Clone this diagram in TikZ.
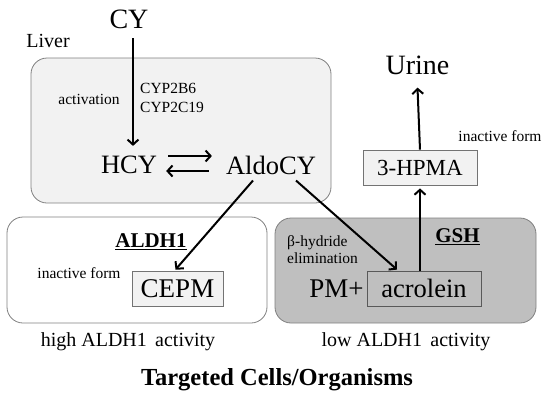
\documentclass[tikz,border=0pt]{standalone}
\usepackage{fontspec}
\setmainfont{Liberation Serif}
\usetikzlibrary{arrows.meta}
\begin{document}
\begin{tikzpicture}
[x=1pt,y=-1pt,
 arr/.style={line width=2pt,-{Straight Barb[length=5pt,width=11pt,line width=2pt]}},
 region/.style={draw=black!50,line width=0.8pt,rounded corners=16pt},
 chem/.style={draw=black!55,line width=0.8pt,inner sep=0pt},
 huge/.style={inner sep=0pt,font=\fontsize{28}{30}\selectfont},
 big/.style={inner sep=0pt,font=\fontsize{26.5}{30}\selectfont},
 mid/.style={inner sep=0pt,font=\fontsize{20}{24}\selectfont},
 small/.style={inner sep=0pt,font=\fontsize{15.5}{19}\selectfont}]
\useasboundingbox (0,0) rectangle (550,400);
%% the three regions
\node[region,fill=black!5,minimum width=300,minimum height=145] (liverbox) at (181,130.5) {};
\node[region,fill=white,minimum width=260,minimum height=106] (highbox) at (137,270) {};
\node[region,fill=black!25,minimum width=261,minimum height=105] (lowbox) at (405.5,270.5) {};
%% liver
\node[huge] (CY) at (129,19.5) {CY};
\node[mid] (liver) at (48,40.5) {Liver};
\node[small] (act) at (89,99) {activation};
\node[small,anchor=west,align=left] (cyp) at (140,97.5) {CYP2B6\\CYP2C19};
\node[big] (HCY) at (129,165) {HCY};
\node[big] (AldoCY) at (271,165) {AldoCY};
\draw[arr] ([xshift=4pt,yshift=-9pt]CY.south) -- ([xshift=4pt,yshift=10pt]HCY.north);
\draw[arr] ([xshift=11pt,yshift=9pt]HCY.east) -- ([xshift=-14pt,yshift=9pt]AldoCY.west);
\draw[arr] ([xshift=-17pt,yshift=-6pt]AldoCY.west) -- ([xshift=9pt,yshift=-6pt]HCY.east);
%% high ALDH1 activity
\node[mid,font=\fontsize{21}{24}\selectfont\bfseries] (aldh) at (151,242) {\underline{ALDH1}};
\node[small] (inactL) at (79,273) {inactive form};
\node[chem,fill=black!5,minimum width=91,minimum height=35,font=\fontsize{27}{30}\selectfont] (CEPM) at (177.5,288.5) {CEPM};
\node[mid] (high) at (128,342) {high ALDH1\, activity};
%% low ALDH1 activity
\node[mid,font=\fontsize{21}{24}\selectfont\bfseries] (gsh) at (457.5,237) {\underline{GSH}};
\node[small,anchor=west,align=left,font=\fontsize{15.5}{17.5}\selectfont] (beta) at (287,249.5) {β-hydride\\elimination};
\node[big,font=\fontsize{27}{30}\selectfont] (pm) at (336.5,288.5) {PM+};
\node[chem,fill=black!25,draw=black!65,minimum width=114,minimum height=35,font=\fontsize{26.5}{30}\selectfont] (acrolein) at (424,288.5) {acrolein};
\node[mid] (low) at (406,342) {low ALDH1\, activity};
%% excretion
\node[chem,fill=black!5,minimum width=114,minimum height=35,font=\fontsize{23}{26}\selectfont] (HPMA) at (420,167.5) {3-HPMA};
\node[small] (inactR) at (500,136) {inactive form};
\node[huge] (urine) at (417.5,65) {Urine};
\coordinate (tipR) at ([xshift=-27pt,yshift=1pt]acrolein.north);
\draw[arr] ([xshift=25pt,yshift=-6pt]AldoCY.south) -- (tipR);
\draw[arr] ([xshift=-18pt,yshift=-6pt]AldoCY.south) -- ([xshift=-2pt,yshift=1pt]CEPM.north);
\draw[arr] (acrolein.north -| HPMA.south) -- ([yshift=-3pt]HPMA.south);
\draw[arr] (HPMA.north) -- ([yshift=-13pt]urine.south);
%% title
\node[inner sep=0pt,font=\fontsize{24.5}{28}\selectfont\bfseries] (title) at (277,380) {Targeted Cells/Organisms};
\end{tikzpicture}
\end{document}
